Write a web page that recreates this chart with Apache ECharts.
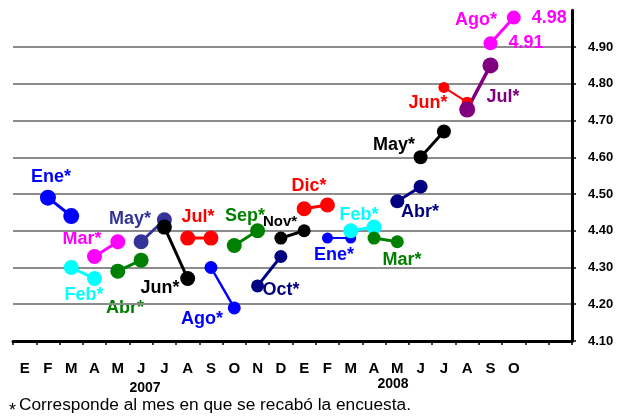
<!DOCTYPE html>
<html>
<head>
<meta charset="utf-8">
<script src="https://cdn.jsdelivr.net/npm/echarts@6/dist/echarts.min.js"></script>
<style>
html,body{margin:0;padding:0;background:#fff;}
#chart{width:618px;height:416px;}
</style>
</head>
<body>
<div id="chart"></div>
<script>
// ---- data ----
const months = ['E','F','M','A','M','J','J','A','S','O','N','D','E','F','M','A','M','J','J','A','S','O','',''];
const surveyNames = ['Ene*','Feb*','Mar*','Abr*','May*','Jun*','Jul*','Ago*','Sep*','Oct*','Nov*','Dic*','Ene*','Feb*','Mar*','Abr*','May*','Jun*','Jul*','Ago*'];
const startMonth = [1,2,3,4,5,6,7,8,9,10,11,12,13,14,15,16,17,18,19,20];
const firstValue  = [4.49,4.30,4.33,4.29,4.37,4.41,4.38,4.30,4.36,4.25,4.38,4.46,4.38,4.40,4.38,4.48,4.60,4.79,4.73,4.91];
const secondValue = [4.44,4.27,4.37,4.32,4.43,4.27,4.38,4.19,4.40,4.33,4.40,4.47,4.38,4.41,4.37,4.52,4.67,4.75,4.85,4.98];
const yTicks = ['4.10','4.20','4.30','4.40','4.50','4.60','4.70','4.80','4.90'];
const years = ['2007','2008'];
const footnote = 'Corresponde al mes en que se recabó la encuesta.';

// ---- styles / layout ----
const colors = ['#0000FF','#00FFFF','#FF00FF','#008000','#333399','#000000','#FF0000','#0000FF','#008000','#000080','#000000','#FF0000','#0000FF','#00FFFF','#008000','#000080','#000000','#FF0000','#800080','#FF00FF'];
const symbolSizes = [16,15,15,15,15,15,15,13,15,13,13,15,11,15,13,14,14,11,16,14];
const lineWidths = [3,3,3,3,3,3,3,2.5,3,3,3,3,2,3,3,3,3,2,3.5,3];
const labelPos = [[51,177],[84,295],[82,239],[125,308],[130,219],[160,288],[198,217],[202,319],[245,216],[281,290],[280,222],[309,186],[334,255],[359,215],[402,260],[420,212],[394,145],[428,103],[503,97],[476,20]];
const labelSize = [18,18,18,18,18,18,18,18,18,18,15,18,18,18,18,18,18,18,18,18];
const yearPos = [[145,388],[393,384]];
const FONT = 'Arial, "Liberation Sans", sans-serif';

const series = surveyNames.map((name, i) => {
  const data = months.map(() => '-');
  data[startMonth[i]] = firstValue[i];
  data[startMonth[i] + 1] = secondValue[i];
  const s = {
    type: 'line',
    name: name,
    data: data,
    symbol: 'circle',
    symbolSize: symbolSizes[i],
    showAllSymbol: true,
    connectNulls: false,
    animation: false,
    itemStyle: { color: colors[i] },
    lineStyle: { color: colors[i], width: lineWidths[i] },
    emphasis: { disabled: true }
  };
  if (i === surveyNames.length - 1) {
    s.label = {
      show: true,
      position: 'right',
      distance: 11,
      color: colors[i],
      fontFamily: FONT,
      fontWeight: 'bold',
      fontSize: 18,
      formatter: p => p.value.toFixed(2)
    };
  }
  return s;
});

const graphics = [];
surveyNames.forEach((name, i) => {
  graphics.push({
    type: 'text',
    silent: true,
    style: {
      text: name, x: labelPos[i][0], y: labelPos[i][1],
      align: 'center', verticalAlign: 'middle',
      fill: colors[i],
      font: 'bold ' + labelSize[i] + 'px ' + FONT
    }
  });
});
years.forEach((y, i) => {
  graphics.push({
    type: 'text', silent: true,
    style: { text: y, x: yearPos[i][0], y: yearPos[i][1], align: 'center', verticalAlign: 'middle', fill: '#000', font: 'bold 14px ' + FONT }
  });
});
graphics.push({ type: 'text', silent: true, style: { text: '*', x: 9, y: 411, align: 'left', verticalAlign: 'middle', fill: '#000', font: '18px ' + FONT } });
graphics.push({ type: 'text', silent: true, style: { text: footnote, x: 19, y: 405, align: 'left', verticalAlign: 'middle', fill: '#000', font: '17.3px ' + FONT } });

const chart = echarts.init(document.getElementById('chart'), null, { renderer: 'canvas' });
chart.setOption({
  animation: false,
  backgroundColor: '#ffffff',
  grid: { left: 13, right: 46, top: 10.25, bottom: 75, containLabel: false },
  xAxis: {
    type: 'category',
    data: months,
    boundaryGap: true,
    axisLine: { show: true, lineStyle: { color: '#000', width: 3 } },
    axisTick: { show: true, interval: 0, length: 4, lineStyle: { color: '#000', width: 1.5 } },
    axisLabel: { interval: 0, margin: 20, color: '#000', fontFamily: FONT, fontWeight: 'bold', fontSize: 15 },
    splitLine: { show: false }
  },
  yAxis: {
    type: 'value',
    position: 'right',
    min: 4.1, max: 5.0, interval: 0.1,
    axisLine: { show: true, lineStyle: { color: '#000', width: 3 } },
    axisTick: { show: true, length: 4, lineStyle: { color: '#000', width: 1.5 } },
    axisLabel: {
      margin: 16, color: '#000', fontFamily: FONT, fontWeight: 'bold', fontSize: 13,
      showMaxLabel: false,
      formatter: v => { const s = v.toFixed(2); return yTicks.indexOf(s) >= 0 ? s : ''; }
    },
    splitLine: { show: true, showMaxLine: false, showMinLine: false, lineStyle: { color: '#8c8c8c', width: 2 } }
  },
  series: series,
  graphic: graphics
});
</script>
</body>
</html>
